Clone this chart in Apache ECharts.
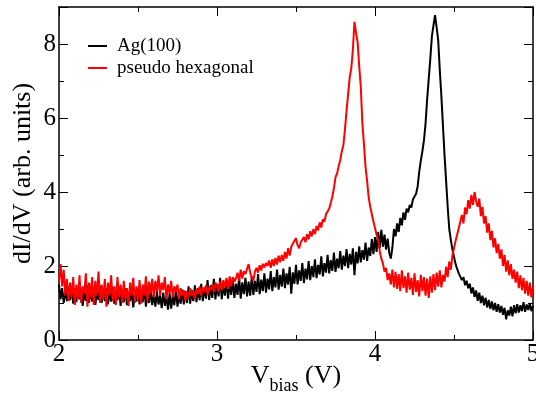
<!DOCTYPE html>
<html>
<head>
<meta charset="utf-8">
<script src="https://cdn.jsdelivr.net/npm/echarts@6/dist/echarts.min.js"></script>
<style>
html,body{margin:0;padding:0;background:#fff;}
#chart{width:536px;height:400px;}
</style>
</head>
<body>
<div id="chart"></div>
<script>
// Sampling grid of the bias voltage (V)
const V_START = 2.0;
const V_STEP = 0.01;

const seriesNames = ['Ag(100)', 'pseudo hexagonal'];

// dI/dV, Ag(100), one value per 0.01 V from 2.00 to 5.00
const agValues = [
  1.50, 1.10, 1.40, 1.00, 1.35, 1.05, 1.45, 1.08, 1.38, 0.98,
  1.40, 1.02, 1.42, 1.10, 1.36, 0.92, 1.32, 1.06, 1.48, 1.00,
  1.36, 1.04, 1.42, 0.95, 1.30, 1.08, 1.46, 1.00, 1.34, 1.05,
  1.40, 0.96, 1.32, 1.04, 1.44, 0.98, 1.28, 1.08, 1.38, 0.92,
  1.34, 1.02, 1.40, 0.94, 1.30, 1.05, 1.36, 0.88, 1.30, 1.04,
  1.38, 0.96, 1.28, 1.02, 1.42, 0.90, 1.26, 1.00, 1.34, 0.94,
  1.24, 0.90, 1.30, 0.96, 1.20, 0.86, 1.28, 0.92, 1.18, 0.82,
  1.26, 0.85, 1.20, 0.94, 1.34, 0.90, 1.24, 0.98, 1.36, 0.96,
  1.32, 1.00, 1.45, 0.98, 1.35, 1.05, 1.48, 1.02, 1.40, 1.08,
  1.52, 1.05, 1.42, 1.12, 1.62, 1.08, 1.48, 1.14, 1.65, 1.10,
  1.52, 1.18, 1.68, 1.10, 1.50, 1.20, 1.62, 1.12, 1.56, 1.22,
  1.66, 1.14, 1.52, 1.22, 1.70, 1.12, 1.56, 1.24, 1.68, 1.18,
  1.58, 1.20, 1.72, 1.22, 1.60, 1.30, 1.78, 1.24, 1.63, 1.32,
  1.80, 1.28, 1.66, 1.37, 1.86, 1.32, 1.70, 1.42, 1.90, 1.36,
  1.76, 1.44, 1.93, 1.40, 1.80, 1.50, 1.98, 1.25, 1.83, 1.52,
  2.03, 1.50, 1.88, 1.60, 2.08, 1.54, 1.93, 1.64, 2.13, 1.62,
  2.00, 1.70, 2.18, 1.67, 2.03, 1.77, 2.26, 1.72, 2.08, 1.82,
  2.30, 1.80, 2.16, 1.87, 2.36, 1.84, 2.20, 1.94, 2.40, 1.90,
  2.28, 2.00, 2.46, 1.94, 2.33, 2.04, 2.48, 1.75, 2.38, 2.07,
  2.53, 2.10, 2.43, 2.17, 2.63, 2.14, 2.50, 2.27, 2.73, 2.32,
  2.78, 2.38, 2.92, 2.48, 2.98, 2.52, 2.85, 2.44, 2.74, 2.36,
  2.20, 2.50, 3.00, 2.80, 3.15, 2.92, 3.30, 3.10, 3.45, 3.25,
  3.55, 3.45, 3.65, 3.58, 3.80, 3.75, 3.95, 4.15, 4.55, 4.85,
  5.10, 5.40, 5.85, 6.50, 7.05, 7.60, 8.20, 8.50, 8.78, 8.45,
  8.10, 7.30, 6.60, 5.80, 5.00, 4.30, 3.60, 3.00, 2.70, 2.45,
  2.25, 2.05, 1.92, 1.80, 1.75, 1.62, 1.70, 1.48, 1.60, 1.40,
  1.52, 1.26, 1.42, 1.16, 1.34, 1.06, 1.28, 1.00, 1.20, 0.94,
  1.14, 0.88, 1.08, 0.84, 1.04, 0.80, 1.00, 0.76, 0.97, 0.74,
  0.92, 0.68, 0.87, 0.56, 0.80, 0.66, 0.90, 0.64, 0.94, 0.72,
  0.97, 0.74, 0.94, 0.78, 1.02, 0.76, 0.96, 0.81, 1.00, 0.78,
  0.92
];

// dI/dV, pseudo hexagonal, one value per 0.01 V from 2.00 to 5.00
const hexValues = [
  1.60, 2.05, 1.45, 1.90, 1.20, 1.65, 1.05, 1.55, 1.15, 1.70,
  0.95, 1.50, 1.10, 1.75, 1.00, 1.45, 1.25, 1.80, 0.90, 1.55,
  1.15, 1.70, 0.95, 1.60, 1.20, 1.85, 1.00, 1.50, 1.10, 1.65,
  0.90, 1.55, 1.20, 1.75, 1.05, 1.45, 0.95, 1.70, 1.15, 1.50,
  1.00, 1.60, 1.10, 1.40, 0.92, 1.55, 1.20, 1.68, 1.00, 1.45,
  1.10, 1.62, 0.98, 1.50, 1.20, 1.72, 1.05, 1.58, 1.25, 1.65,
  1.15, 1.60, 1.30, 1.75, 1.20, 1.55, 1.35, 1.70, 1.10, 1.50,
  1.25, 1.60, 1.15, 1.45, 1.30, 1.50, 1.10, 1.40, 1.20, 1.35,
  1.05, 1.30, 1.15, 1.40, 1.20, 1.32, 1.10, 1.38, 1.25, 1.45,
  1.20, 1.40, 1.30, 1.48, 1.22, 1.42, 1.35, 1.50, 1.30, 1.55,
  1.45, 1.30, 1.58, 1.35, 1.62, 1.40, 1.68, 1.38, 1.72, 1.45,
  1.70, 1.58, 1.66, 1.82, 1.60, 1.90, 1.66, 1.86, 1.78, 1.92,
  2.05, 1.82, 1.68, 1.60, 1.85, 1.95, 1.82, 2.02, 1.88, 2.06,
  1.96, 2.08, 2.00, 2.15, 1.95, 2.18, 2.00, 2.22, 2.04, 2.28,
  2.10, 2.30, 2.14, 2.38, 2.20, 2.48, 2.28, 2.52, 2.50, 2.68,
  2.75, 2.56, 2.48, 2.64, 2.60, 2.78, 2.64, 2.86, 2.72, 2.94,
  2.80, 3.00, 2.86, 3.08, 2.96, 3.18, 3.04, 3.26, 3.20, 3.40,
  3.42, 3.55, 3.70, 3.88, 4.10, 4.40, 4.50, 4.70, 4.86, 5.10,
  5.27, 5.70, 6.20, 6.65, 7.10, 7.35, 7.85, 8.60, 8.30, 8.05,
  7.40, 6.85, 5.86, 5.30, 4.68, 4.30, 3.85, 3.60, 3.40, 3.20,
  3.15, 2.85, 2.70, 2.40, 2.20, 2.07, 1.85, 1.95, 1.62, 1.80,
  1.50, 1.90, 1.42, 1.84, 1.38, 1.78, 1.32, 1.88, 1.40, 1.72,
  1.28, 1.82, 1.36, 1.68, 1.22, 1.80, 1.30, 1.62, 1.18, 1.76,
  1.32, 1.70, 1.20, 1.66, 1.14, 1.72, 1.28, 1.78, 1.35, 1.82,
  1.44, 1.88, 1.42, 1.76, 1.58, 1.98, 1.70, 2.12, 1.90, 2.28,
  2.30, 2.68, 2.70, 3.02, 3.05, 3.38, 3.15, 3.58, 3.40, 3.78,
  3.55, 3.92, 3.65, 4.00, 3.75, 3.60, 3.82, 3.35, 3.60, 3.15,
  3.35, 2.90, 3.15, 2.70, 2.95, 2.50, 2.75, 2.35, 2.60, 2.20,
  2.45, 2.00, 2.30, 1.85, 2.15, 1.75, 2.05, 1.65, 1.90, 1.55,
  1.85, 1.40, 1.75, 1.35, 1.68, 1.25, 1.60, 1.20, 1.55, 1.15,
  1.45
];

const xTicks = { min: 2, max: 5, interval: 1 };
const yTicks = { min: 0, max: 9, interval: 2 };

function toPairs(values) {
  return values.map((v, i) => [+(V_START + i * V_STEP).toFixed(2), v]);
}

const FONT = '"Liberation Serif", "DejaVu Serif", serif';
const chart = echarts.init(document.getElementById('chart'), null, { renderer: 'canvas' });

const lineAx = { show: true, onZero: false, lineStyle: { color: '#000', width: 1.5 } };
const noLine = { show: false, onZero: false };

const option = {
  animation: false,
  backgroundColor: '#fff',
  grid: { left: 59, right: 3, top: 7, bottom: 60, containLabel: false, outerBoundsMode: 'none' },
  legend: {
    orient: 'vertical',
    left: 83,
    top: 31,
    itemWidth: 19,
    itemHeight: 2,
    itemGap: 2,
    icon: 'rect',
    data: seriesNames,
    textStyle: { fontFamily: FONT, fontSize: 19, color: '#000', lineHeight: 20, padding: [0, 0, 0, 5] }
  },
  xAxis: [
    {
      type: 'value', position: 'bottom', min: xTicks.min, max: xTicks.max, interval: xTicks.interval,
      axisLine: lineAx,
      axisTick: { show: true, inside: true, length: 9, lineStyle: { color: '#000', width: 1 } },
      minorTick: { show: true, splitNumber: 2, length: 5, lineStyle: { color: '#000', width: 1 } },
      axisLabel: { fontFamily: FONT, fontSize: 25, color: '#000', margin: 2 },
      splitLine: { show: false },
      name: '{v|V}{sub|bias}{v| (V)}',
      nameLocation: 'middle',
      nameGap: 17,
      nameMoveOverlap: false,
      nameTextStyle: {
        rich: {
          v: { fontFamily: FONT, fontSize: 26, color: '#000' },
          sub: { fontFamily: FONT, fontSize: 18, color: '#000', padding: [20, 0, 0, 0] }
        }
      }
    },
    {
      type: 'value', position: 'top', min: xTicks.min, max: xTicks.max, interval: xTicks.interval,
      axisLine: lineAx,
      axisTick: { show: true, inside: true, length: 9, lineStyle: { color: '#000', width: 1 } },
      minorTick: { show: true, splitNumber: 2, length: 5, lineStyle: { color: '#000', width: 1 } },
      axisLabel: { show: false },
      splitLine: { show: false }
    }
  ],
  yAxis: [
    {
      type: 'value', position: 'left', min: yTicks.min, max: yTicks.max, interval: 1,
      axisLine: lineAx,
      axisTick: { show: true, inside: true, length: 5, lineStyle: { color: '#000', width: 1 } },
      axisLabel: {
        fontFamily: FONT, fontSize: 25, color: '#000', margin: 3,
        formatter: v => (v % yTicks.interval === 0 && v < yTicks.max ? String(v) : '')
      },
      splitLine: { show: false },
      name: 'dI/dV (arb. units)',
      nameLocation: 'middle',
      nameGap: 23,
      nameMoveOverlap: false,
      nameTextStyle: { fontFamily: FONT, fontSize: 26, color: '#000' }
    },
    {
      type: 'value', position: 'left', min: yTicks.min, max: yTicks.max, interval: yTicks.interval,
      axisLine: noLine,
      axisTick: { show: true, inside: true, length: 9, lineStyle: { color: '#000', width: 1 } },
      axisLabel: { show: false },
      splitLine: { show: false }
    },
    {
      type: 'value', position: 'right', min: yTicks.min, max: yTicks.max, interval: 1,
      axisLine: lineAx,
      axisTick: { show: true, inside: true, length: 5, lineStyle: { color: '#000', width: 1 } },
      axisLabel: { show: false },
      splitLine: { show: false }
    },
    {
      type: 'value', position: 'right', min: yTicks.min, max: yTicks.max, interval: yTicks.interval,
      axisLine: noLine,
      axisTick: { show: true, inside: true, length: 9, lineStyle: { color: '#000', width: 1 } },
      axisLabel: { show: false },
      splitLine: { show: false }
    }
  ],
  series: [
    {
      name: seriesNames[0], type: 'line', xAxisIndex: 0, yAxisIndex: 0,
      data: toPairs(agValues), showSymbol: false, symbol: 'none',
      itemStyle: { color: '#000' },
      lineStyle: { color: '#000', width: 2 }
    },
    {
      name: seriesNames[1], type: 'line', xAxisIndex: 0, yAxisIndex: 0,
      data: toPairs(hexValues), showSymbol: false, symbol: 'none',
      itemStyle: { color: '#ff0000' },
      lineStyle: { color: '#ff0000', width: 2 }
    }
  ]
};
chart.setOption(option);
</script>
</body>
</html>
